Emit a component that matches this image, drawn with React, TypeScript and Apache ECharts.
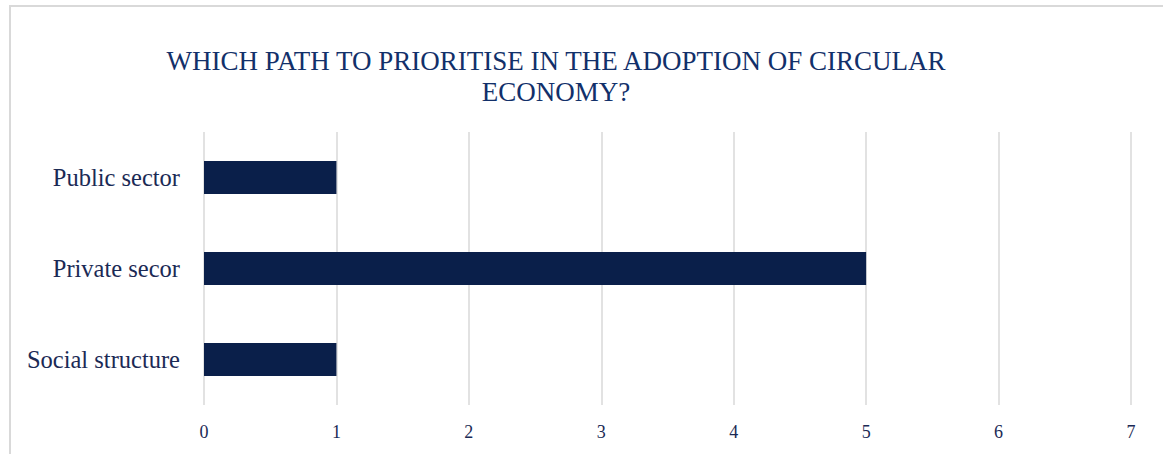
import React, { useEffect, useRef } from "react";
import * as echarts from "echarts";

const categories = ["Social structure", "Private secor", "Public sector"];
const values = [1, 5, 1];
const titleLines = ["WHICH PATH TO PRIORITISE IN THE ADOPTION OF CIRCULAR", "ECONOMY?"];

export default function App() {
  const ref = useRef<HTMLDivElement>(null);
  useEffect(() => {
    document.body.style.margin = "0";
    const chart = echarts.init(ref.current!, undefined, { renderer: "svg" });
    const font = "'Liberation Serif', 'Times New Roman', serif";
    chart.setOption({
      animation: false,
      graphic: [
        {
          type: "rect",
          shape: { x: 10, y: 6, width: 1400, height: 700 },
          style: { fill: "none", stroke: "#d9d9d9", lineWidth: 2 },
          silent: true,
        },
        {
          type: "text",
          x: 556,
          y: 45,
          style: {
            text: titleLines.join("\n"),
            textAlign: "center",
            textVerticalAlign: "top",
            fontFamily: font,
            fontSize: 27,
            lineHeight: 31,
            fill: "#12306a",
          },
        },
      ],
      grid: { left: 204, right: 32, top: 132, bottom: 49, containLabel: false },
      xAxis: {
        type: "value",
        min: 0,
        max: 7,
        interval: 1,
        axisLine: { show: false },
        axisTick: { show: false },
        axisLabel: { color: "#1b2a55", fontFamily: font, fontSize: 18, margin: 18 },
        splitLine: { show: true, lineStyle: { color: "#d9d9d9", width: 1.5 } },
      },
      yAxis: {
        type: "category",
        data: categories,
        axisLine: { show: false },
        axisTick: { show: false },
        axisLabel: { color: "#1b2a55", fontFamily: font, fontSize: 24.5, margin: 24 },
        splitLine: { show: false },
      },
      series: [
        {
          type: "bar",
          data: values,
          barCategoryGap: "64%",
          itemStyle: { color: "#0a1f4a" },
        },
      ],
    });
    return () => chart.dispose();
  }, []);
  return <div ref={ref} style={{ width: 1163, height: 454 }} />;
}
